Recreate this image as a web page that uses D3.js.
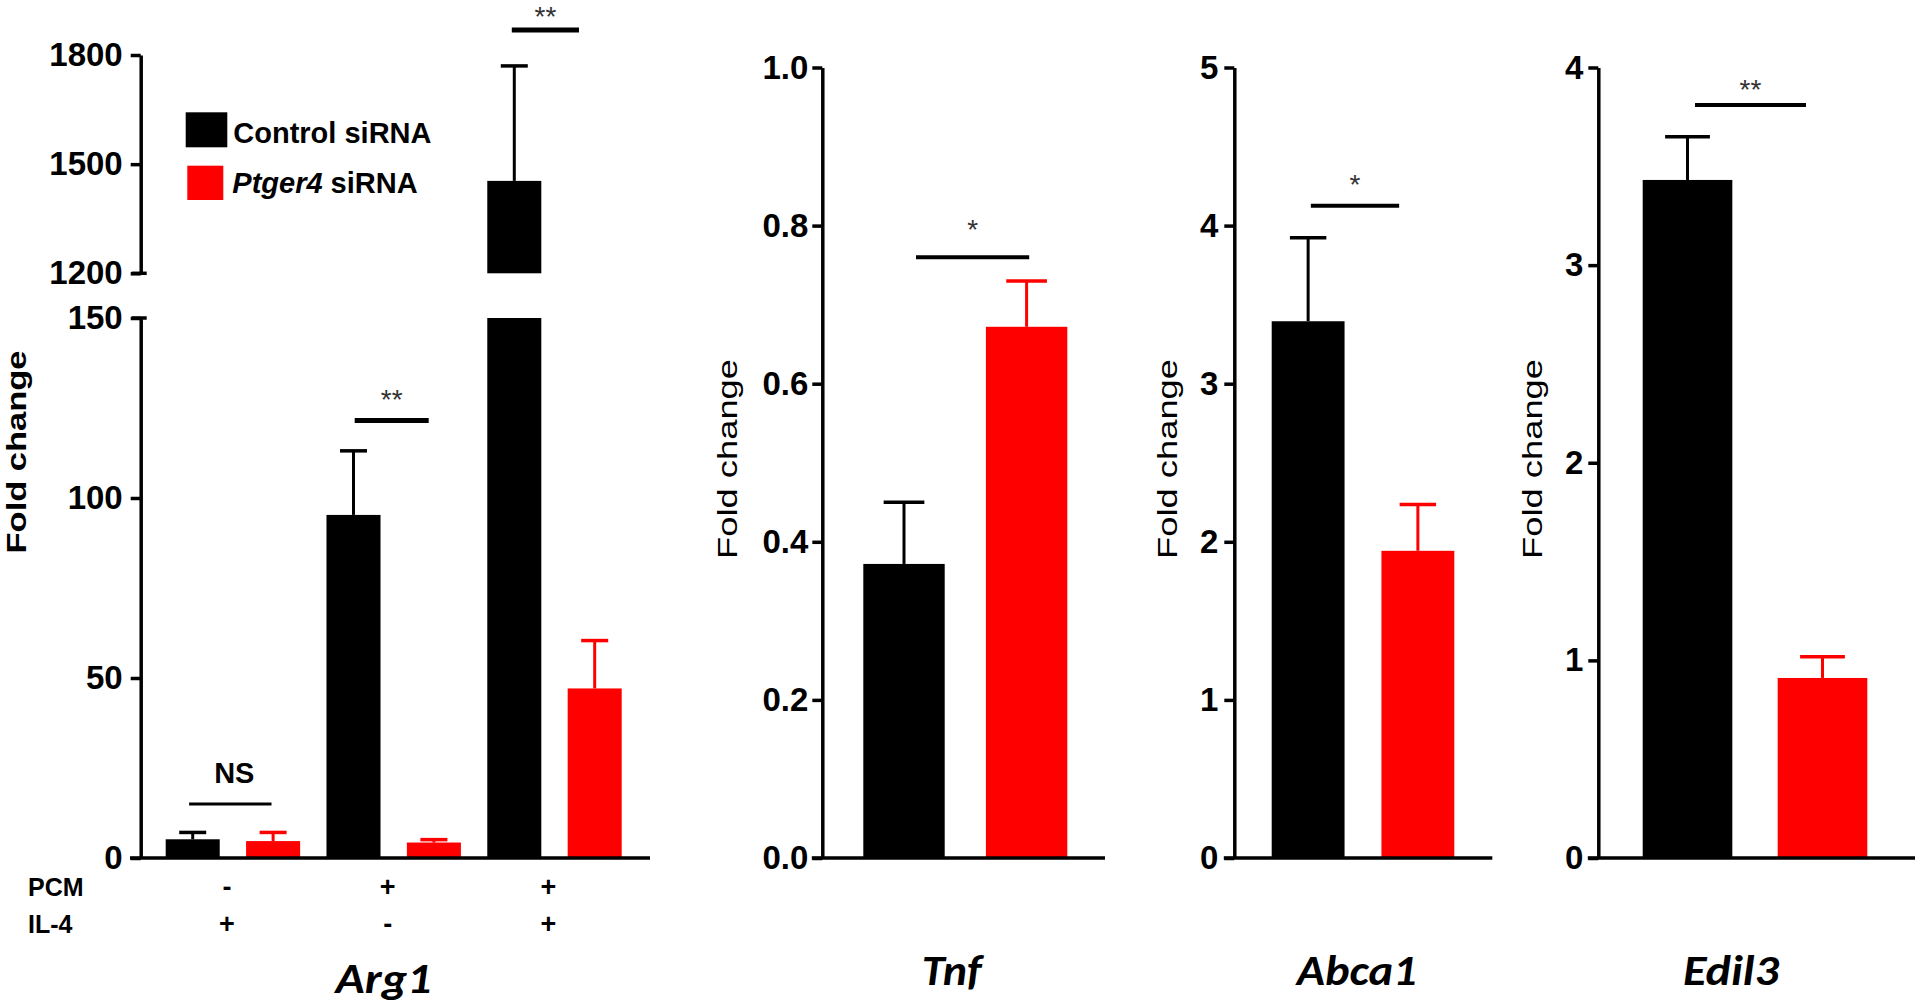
<!DOCTYPE html>
<html>
<head>
<meta charset="utf-8">
<script src="https://cdn.jsdelivr.net/npm/d3@7"></script>
<style>
  html, body { margin: 0; padding: 0; background: #ffffff; }
  svg { display: block; }
</style>
</head>
<body>
<svg id="chart" width="1920" height="1006"></svg>
<script>
// ---------------- DATA ----------------
const series = ["Control siRNA", "Ptger4 siRNA"];
const seriesColors = ["#000000", "#ff0000"];

// Arg1 panel (broken y axis)
const arg1Groups = ["PCM-/IL-4+", "PCM+/IL-4-", "PCM+/IL-4+"];
const rowLabels = ["PCM", "IL-4"];
const pcmSigns = ["-", "+", "+"];
const il4Signs = ["+", "-", "+"];
const arg1Control = [5.2, 95.3, 1454];
const arg1ControlSem = [1.9, 17.8, 316];
const arg1Ptger4 = [4.7, 4.3, 47.1];
const arg1Ptger4Sem = [2.4, 0.8, 13.3];
const arg1Sig = ["NS", "**", "**"];
const arg1SigAt = [15, 121.5, 1869];
const arg1LowTicks = [0, 50, 100, 150];
const arg1HighTicks = [1200, 1500, 1800];

// Tnf panel
const tnfValues = [0.372, 0.672];
const tnfSem = [0.078, 0.058];
const tnfTicks = [0, 0.2, 0.4, 0.6, 0.8, 1.0];
const tnfSig = "*";
const tnfSigAt = 0.76;

// Abca1 panel
const abca1Values = [3.395, 1.943];
const abca1Sem = [0.528, 0.293];
const abca1Ticks = [0, 1, 2, 3, 4, 5];
const abca1Sig = "*";
const abca1SigAt = 4.126;

// Edil3 panel
const edil3Values = [3.431, 0.911];
const edil3Sem = [0.218, 0.107];
const edil3Ticks = [0, 1, 2, 3, 4];
const edil3Sig = "**";
const edil3SigAt = 3.81;

const yLabel = "Fold change";

// ---------------- LAYOUT ----------------
const svg = d3.select("#chart");
const NUM_FONT = "'Liberation Sans', Arial, Helvetica, sans-serif";
const TITLE_FONT = "Carlito, 'Open Sans', 'Liberation Sans', sans-serif";
const baseY = 858;
const topY = 67.5;
const axisW = 3.5;

function drawYAxis(g, scale, ticks, fmt, x, pad, fontSize) {
  const ax = d3.axisLeft(scale).tickValues(ticks).tickFormat(fmt)
    .tickSize(10).tickSizeOuter(0).tickPadding(pad);
  const a = g.append("g").attr("transform", `translate(${x},0)`).call(ax);
  a.select(".domain").attr("stroke", "#000").attr("stroke-width", axisW);
  a.selectAll(".tick line").attr("stroke", "#000").attr("stroke-width", axisW);
  a.selectAll(".tick text").attr("fill", "#000")
    .style("font-family", NUM_FONT).style("font-weight", "bold")
    .style("font-size", fontSize + "px");
  return a;
}

function errorBar(g, cx, yBar, yTop, capW, color) {
  g.append("line").attr("x1", cx).attr("x2", cx).attr("y1", yBar).attr("y2", yTop)
    .attr("stroke", color).attr("stroke-width", 3);
  g.append("line").attr("x1", cx - capW / 2).attr("x2", cx + capW / 2)
    .attr("y1", yTop).attr("y2", yTop)
    .attr("stroke", color).attr("stroke-width", 3.5);
}

function sigMark(g, x1, x2, y, label, gap, lineW) {
  g.append("line").attr("x1", x1).attr("x2", x2).attr("y1", y).attr("y2", y)
    .attr("stroke", "#000").attr("stroke-width", lineW);
  if (label === "NS") {
    g.append("text").attr("x", (x1 + x2) / 2 + 4).attr("y", y - 21.3)
      .attr("text-anchor", "middle")
      .style("font-family", NUM_FONT).style("font-weight", "bold").style("font-size", "29px")
      .text(label);
  } else {
    g.append("text").attr("x", (x1 + x2) / 2).attr("y", y - gap + 16.5)
      .attr("text-anchor", "middle").attr("fill", "#333")
      .style("font-family", NUM_FONT).style("font-size", "28px")
      .text(label);
  }
}

function yTitle(g, cx, cy, bold, size, len) {
  g.append("text")
    .attr("transform", `translate(${cx},${cy}) rotate(-90)`)
    .attr("text-anchor", "middle")
    .attr("textLength", len).attr("lengthAdjust", "spacingAndGlyphs")
    .style("font-family", NUM_FONT)
    .style("font-weight", bold ? "bold" : "normal")
    .style("font-size", size + "px")
    .text(yLabel);
}

function geneTitle(g, cx, cy, text, len) {
  g.append("text").attr("x", cx).attr("y", cy).attr("text-anchor", "middle")
    .attr("textLength", len).attr("lengthAdjust", "spacingAndGlyphs")
    .style("font-family", TITLE_FONT).style("font-weight", "bold")
    .style("font-style", "italic").style("font-size", "42px")
    .text(text);
}

// ---------------- PANEL 1: Arg1 ----------------
(function () {
  const g = svg.append("g");
  const axisX = 140.7;
  const keys = [];
  arg1Groups.forEach(gr => series.forEach(s => keys.push(gr + "|" + s)));
  const x = d3.scaleBand().domain(keys).range([165.7, 621.7]).paddingInner(0.328).paddingOuter(0);
  const yLow = d3.scaleLinear().domain([0, 150]).range([baseY, 318]);
  const yHigh = d3.scaleLinear().domain([1200, 1800]).range([273.3, 55]);
  const bw = x.bandwidth();

  const bars = [];
  arg1Groups.forEach((gr, i) => {
    bars.push({ key: gr + "|" + series[0], v: arg1Control[i], e: arg1ControlSem[i], c: seriesColors[0] });
    bars.push({ key: gr + "|" + series[1], v: arg1Ptger4[i], e: arg1Ptger4Sem[i], c: seriesColors[1] });
  });

  bars.forEach(b => {
    const cx = x(b.key) + bw / 2;
    const top = b.v + b.e;
    if (b.v <= 150) errorBar(g, cx, yLow(b.v), yLow(top), bw / 2, b.c);
    else errorBar(g, cx, yHigh(b.v), yHigh(top), bw / 2, b.c);
  });
  g.selectAll("rect.low").data(bars).join("rect").attr("class", "low")
    .attr("x", d => x(d.key)).attr("width", bw)
    .attr("y", d => yLow(Math.min(d.v, 150)))
    .attr("height", d => yLow(0) - yLow(Math.min(d.v, 150)))
    .attr("fill", d => d.c);
  g.selectAll("rect.high").data(bars.filter(d => d.v > 1200)).join("rect").attr("class", "high")
    .attr("x", d => x(d.key)).attr("width", bw)
    .attr("y", d => yHigh(d.v))
    .attr("height", d => yHigh(1200) - yHigh(d.v))
    .attr("fill", d => d.c);

  drawYAxis(g, yLow, arg1LowTicks, d3.format("d"), axisX, 8, 33);
  drawYAxis(g, yHigh, arg1HighTicks, d3.format("d"), axisX, 8, 33);
  [yHigh(1200), yLow(150)].forEach(yy => {
    g.append("line").attr("x1", axisX - 9).attr("x2", axisX + 6).attr("y1", yy).attr("y2", yy)
      .attr("stroke", "#000").attr("stroke-width", axisW);
  });
  g.append("line").attr("x1", 130).attr("x2", 650).attr("y1", baseY).attr("y2", baseY)
    .attr("stroke", "#000").attr("stroke-width", axisW);

  // significance (layout: star gaps and line end insets)
  const gaps = [0, 27.7, 20.7];
  const insetL = [-3.6, 1.2, -2.5];
  const insetR = [-1.6, -5.2, -15.7];
  arg1Groups.forEach((gr, i) => {
    const x1 = x(gr + "|" + series[0]) + bw / 2 + insetL[i];
    const x2 = x(gr + "|" + series[1]) + bw / 2 + insetR[i];
    const yy = arg1SigAt[i] <= 150 ? yLow(arg1SigAt[i]) : yHigh(arg1SigAt[i]);
    sigMark(g, x1, x2, yy, arg1Sig[i], gaps[i], arg1Sig[i] === "NS" ? 3 : 5);
  });

  const rows = [pcmSigns, il4Signs];
  const rowY = [896, 933];
  rowLabels.forEach((lab, r) => {
    g.append("text").attr("x", 28).attr("y", rowY[r])
      .style("font-family", NUM_FONT).style("font-weight", "bold").style("font-size", "25px")
      .text(lab);
    rows[r].forEach((s, i) => {
      const cx = (x(arg1Groups[i] + "|" + series[0]) + x(arg1Groups[i] + "|" + series[1]) + bw) / 2 - 6;
      g.append("text").attr("x", cx).attr("y", rowY[r]).attr("text-anchor", "middle")
        .style("font-family", NUM_FONT).style("font-weight", "bold").style("font-size", "27px")
        .text(s);
    });
  });

  yTitle(g, 25.5, 452, true, 27, 203);
  geneTitle(g, 383.5, 993, "Arg1", 96);

  const leg = g.append("g");
  const legRects = [[185.7, 112.3, 41.6, 35], [187.3, 165.7, 36, 34.3]];
  const legText = [[233.3, 142.7], [232.3, 193.3]];
  series.forEach((s, i) => {
    leg.append("rect").attr("x", legRects[i][0]).attr("y", legRects[i][1])
      .attr("width", legRects[i][2]).attr("height", legRects[i][3]).attr("fill", seriesColors[i]);
    const t = leg.append("text").attr("x", legText[i][0]).attr("y", legText[i][1])
      .style("font-family", NUM_FONT).style("font-weight", "bold").style("font-size", "29px");
    const parts = s.split(" ");
    if (i === 1) {
      t.append("tspan").style("font-style", "italic").text(parts[0]);
      t.append("tspan").text(" " + parts.slice(1).join(" "));
    } else {
      t.text(s);
    }
  });
})();

// ---------------- PANELS 2-4 ----------------
const simplePanels = [
  { title: "Tnf", vals: tnfValues, sem: tnfSem, ticks: tnfTicks, fmt: d3.format(".1f"), sig: tnfSig, sigAt: tnfSigAt,
    axisX: 822.3, barL: 863.3, barR: 1067.3, axisEnd: 1105, pad: 4, labelX: 737, titleX: 951.7, titleLen: 60, gap: 35,
    insetL: 12, insetR: 2.6 },
  { title: "Abca1", vals: abca1Values, sem: abca1Sem, ticks: abca1Ticks, fmt: d3.format("d"), sig: abca1Sig, sigAt: abca1SigAt,
    axisX: 1234.3, barL: 1271.7, barR: 1454.3, axisEnd: 1492.3, pad: 6, labelX: 1177, titleX: 1356.7, titleLen: 120, gap: 27.7,
    insetL: 2.7, insetR: -18.7 },
  { title: "Edil3", vals: edil3Values, sem: edil3Sem, ticks: edil3Ticks, fmt: d3.format("d"), sig: edil3Sig, sigAt: edil3SigAt,
    axisX: 1598.3, barL: 1642.7, barR: 1867.3, axisEnd: 1915, pad: 5, labelX: 1541.6, titleX: 1731, titleLen: 96, gap: 22.8,
    insetL: 7.5, insetR: -16.5 }
];

simplePanels.forEach(p => {
  const g = svg.append("g");
  const x = d3.scaleBand().domain(series).range([p.barL, p.barR]).paddingInner(0.336).paddingOuter(0);
  const y = d3.scaleLinear().domain([0, d3.max(p.ticks)]).range([baseY, topY]);
  const bw = x.bandwidth();
  const data = series.map((s, i) => ({ s, v: p.vals[i], e: p.sem[i], c: seriesColors[i] }));

  data.forEach(d => errorBar(g, x(d.s) + bw / 2, y(d.v), y(d.v + d.e), bw / 2, d.c));
  g.selectAll("rect.bar").data(data).join("rect").attr("class", "bar")
    .attr("x", d => x(d.s)).attr("width", bw)
    .attr("y", d => y(d.v)).attr("height", d => y(0) - y(d.v))
    .attr("fill", d => d.c);

  drawYAxis(g, y, p.ticks, p.fmt, p.axisX, p.pad, 33);
  g.append("line").attr("x1", p.axisX - 10.5).attr("x2", p.axisEnd).attr("y1", baseY).attr("y2", baseY)
    .attr("stroke", "#000").attr("stroke-width", axisW);

  sigMark(g, x(series[0]) + bw / 2 + p.insetL, x(series[1]) + bw / 2 + p.insetR, y(p.sigAt), p.sig, p.gap, 4);
  yTitle(g, p.labelX, 459, false, 27, 200);
  geneTitle(g, p.titleX, 985, p.title, p.titleLen);
});
</script>
</body>
</html>
